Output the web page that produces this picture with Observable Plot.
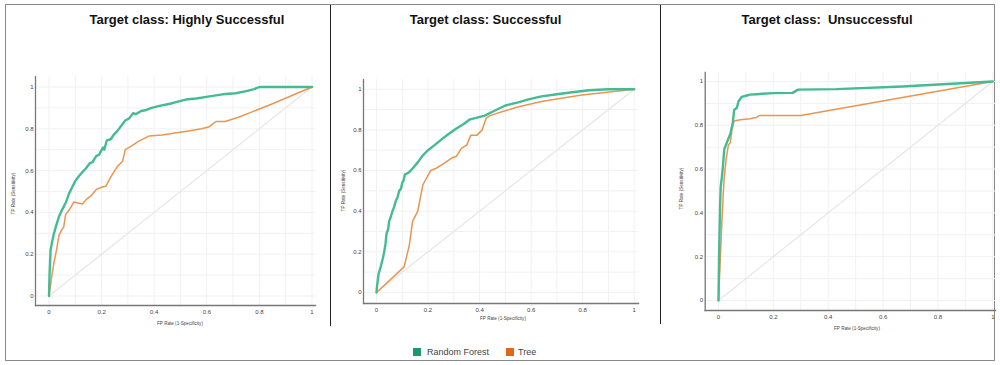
<!DOCTYPE html>
<html>
<head>
<meta charset="utf-8">
<script src="https://cdn.jsdelivr.net/npm/d3@7"></script>
<script src="https://cdn.jsdelivr.net/npm/@observablehq/plot@0.6"></script>
<style>
  html, body { margin: 0; padding: 0; background: #fff; }
  #wrap { position: relative; width: 1000px; height: 365px; overflow: hidden; font-family: "Liberation Sans", Arial, sans-serif; }
  .abs { position: absolute; }
  .title { font-weight: bold; font-size: 13px; line-height: 13px; color: #111; text-align: center; width: 300px; white-space: pre; }
  .xlab { font-size: 4.6px; line-height: 5px; color: #444; text-align: center; width: 100px; white-space: nowrap; }
  .ylab { font-size: 4.6px; line-height: 5px; color: #444; text-align: center; width: 100px; white-space: nowrap; transform: rotate(-90deg); transform-origin: 50% 50%; }
  .sw { width: 8px; height: 8px; }
  .lg { font-size: 9px; line-height: 10px; color: #444; white-space: nowrap; }
</style>
</head>
<body>
<div id="wrap"></div>
<script>
// ---------- data ----------
const seriesNames = ["Random Forest", "Tree"];
const lineColors = ["#45bb94", "#ea9550"];
const swatchColors = ["#1b9a6e", "#e2651c"];
const titles = ["Target class: Highly Successful", "Target class: Successful", "Target class:  Unsuccessful"];
const xLabel = "FP Rate (1-Specificity)";
const yLabel = "TP Rate (Sensitivity)";
const tickValues = [0, 0.2, 0.4, 0.6, 0.8, 1];
const gridValues = [0, 0.1, 0.2, 0.3, 0.4, 0.5, 0.6, 0.7, 0.8, 0.9, 1];
const diagonal = [[0, 0], [1, 1]];

// ROC points [FP rate, TP rate]
const rfHighly = [[0,0],[0.002,0.1],[0.004,0.16],[0.006,0.22],[0.012,0.26],[0.019,0.30],[0.028,0.34],[0.038,0.38],[0.045,0.40],[0.057,0.43],[0.065,0.45],[0.076,0.49],[0.088,0.52],[0.10,0.55],[0.115,0.575],[0.125,0.59],[0.14,0.61],[0.155,0.635],[0.165,0.64],[0.18,0.67],[0.19,0.675],[0.205,0.71],[0.21,0.70],[0.22,0.745],[0.235,0.75],[0.245,0.77],[0.26,0.79],[0.275,0.815],[0.29,0.84],[0.305,0.85],[0.32,0.875],[0.33,0.87],[0.35,0.885],[0.37,0.89],[0.39,0.90],[0.42,0.91],[0.46,0.92],[0.49,0.93],[0.52,0.94],[0.56,0.945],[0.61,0.955],[0.66,0.965],[0.71,0.97],[0.75,0.98],[0.78,0.99],[0.80,1.0],[1,1]];
const treeHighly = [[0,0],[0.01,0.09],[0.019,0.16],[0.03,0.23],[0.038,0.29],[0.05,0.32],[0.056,0.33],[0.063,0.39],[0.076,0.41],[0.095,0.45],[0.11,0.445],[0.127,0.44],[0.14,0.46],[0.16,0.48],[0.18,0.51],[0.2,0.52],[0.216,0.525],[0.235,0.57],[0.25,0.60],[0.26,0.62],[0.28,0.645],[0.29,0.70],[0.31,0.715],[0.34,0.74],[0.38,0.765],[0.43,0.77],[0.48,0.78],[0.53,0.79],[0.58,0.80],[0.61,0.81],[0.635,0.835],[0.67,0.835],[0.72,0.855],[0.77,0.88],[0.85,0.92],[1,1]];

const rfSucc = [[0,0],[0.002,0.03],[0.004,0.05],[0.008,0.09],[0.017,0.13],[0.025,0.17],[0.03,0.20],[0.035,0.24],[0.039,0.29],[0.045,0.31],[0.049,0.35],[0.055,0.37],[0.062,0.40],[0.068,0.42],[0.075,0.45],[0.082,0.47],[0.088,0.50],[0.095,0.51],[0.10,0.54],[0.105,0.55],[0.11,0.58],[0.125,0.59],[0.14,0.61],[0.16,0.64],[0.18,0.675],[0.20,0.70],[0.23,0.73],[0.256,0.757],[0.28,0.78],[0.31,0.807],[0.34,0.83],[0.36,0.85],[0.39,0.86],[0.42,0.87],[0.46,0.895],[0.50,0.92],[0.55,0.935],[0.59,0.95],[0.64,0.965],[0.70,0.975],[0.76,0.985],[0.825,0.995],[0.9,1],[1,1]];
const treeSucc = [[0,0],[0.107,0.126],[0.127,0.23],[0.14,0.35],[0.16,0.40],[0.18,0.53],[0.21,0.60],[0.23,0.61],[0.256,0.63],[0.29,0.66],[0.31,0.67],[0.33,0.71],[0.35,0.725],[0.366,0.774],[0.39,0.774],[0.41,0.80],[0.425,0.856],[0.44,0.87],[0.49,0.89],[0.54,0.91],[0.64,0.94],[0.79,0.97],[1,1]];

const rfUnsucc = [[0,0],[0.002,0.20],[0.004,0.32],[0.006,0.44],[0.008,0.52],[0.012,0.56],[0.016,0.61],[0.021,0.69],[0.03,0.72],[0.043,0.76],[0.052,0.81],[0.057,0.87],[0.067,0.88],[0.073,0.91],[0.085,0.93],[0.10,0.935],[0.115,0.94],[0.14,0.942],[0.16,0.944],[0.20,0.947],[0.27,0.948],[0.29,0.963],[0.43,0.965],[0.67,0.977],[1,1]];
const treeUnsucc = [[0,0],[0.012,0.35],[0.02,0.55],[0.028,0.647],[0.036,0.71],[0.043,0.72],[0.049,0.78],[0.057,0.82],[0.08,0.825],[0.115,0.83],[0.14,0.837],[0.15,0.845],[0.30,0.845],[1,1]];

// ---------- layout ----------
const panels = [
  { rf: rfHighly, tree: treeHighly, left: 0, width: 330, height: 340, xr: [48.5, 311.5], yr: [295.5, 86.5],
    m: { l: 35, r: 15, t: 76, b: 35 }, titleX: 187, xlabX: 180, xlabY: 323, ylabX: 13, ylabY: 193 },
  { rf: rfSucc, tree: treeSucc, left: 330, width: 330, height: 340, xr: [46, 303.7], yr: [292, 88.7],
    m: { l: 33, r: 22, t: 79, b: 37 }, titleX: 485.5, xlabX: 503, xlabY: 318, ylabX: 343, ylabY: 190 },
  { rf: rfUnsucc, tree: treeUnsucc, left: 660, width: 340, height: 340, xr: [58, 332.3], yr: [300, 81],
    m: { l: 44.7, r: 5, t: 72, b: 30 }, titleX: 827, xlabX: 857, xlabY: 328, ylabX: 681, ylabY: 188 }
];

const wrap = document.getElementById("wrap");
function add(cls, css, text) {
  const d = document.createElement("div");
  d.className = "abs " + cls;
  Object.assign(d.style, css);
  if (text != null) d.textContent = text;
  wrap.appendChild(d);
  return d;
}

// outer border
add("", { left: "5px", top: "4px", width: "990px", height: "357px", border: "1px solid #8a8a8a", boxSizing: "border-box" });
// separators
add("", { left: "329.5px", top: "5px", width: "1.5px", height: "321px", background: "#222" });
add("", { left: "659.5px", top: "5px", width: "1.5px", height: "319px", background: "#222" });

panels.forEach((p, i) => {
  const fmt = d => (d === 0 || d === 1) ? String(d) : d.toFixed(1);
  const plot = Plot.plot({
    width: p.width,
    height: p.height,
    marginLeft: p.m.l, marginRight: p.m.r, marginTop: p.m.t, marginBottom: p.m.b,
    x: { domain: [0, 1], range: p.xr },
    y: { domain: [0, 1], range: p.yr },
    style: { fontFamily: "Liberation Sans, Arial, sans-serif", fontSize: "6px", color: "#444", background: "transparent", overflow: "visible" },
    marks: [
      Plot.gridX(gridValues, { stroke: "#f1f1f1", strokeOpacity: 1 }),
      Plot.gridY(gridValues, { stroke: "#f1f1f1", strokeOpacity: 1 }),
      Plot.line(diagonal, { x: d => d[0], y: d => d[1], stroke: "#e6e6e6", strokeWidth: 1.2 }),
      Plot.line(p.tree, { x: d => d[0], y: d => d[1], stroke: lineColors[1], strokeWidth: 1.5 }),
      Plot.line(p.rf, { x: d => d[0], y: d => d[1], stroke: lineColors[0], strokeWidth: 2.4 }),
      Plot.axisX(tickValues, { tickSize: 0, tickPadding: 4, tickFormat: fmt, label: null }),
      Plot.axisY(tickValues, { tickSize: 0, tickPadding: 2, tickFormat: fmt, label: null }),
      Plot.frame({ anchor: "left", stroke: "#777", strokeWidth: 1.3 }),
      Plot.frame({ anchor: "bottom", stroke: "#777", strokeWidth: 1.3 })
    ]
  });
  plot.style.position = "absolute";
  plot.style.left = p.left + "px";
  plot.style.top = "0px";
  wrap.appendChild(plot);

  add("title", { left: (p.titleX - 150) + "px", top: "12.5px" }, titles[i]);
  add("xlab", { left: (p.xlabX - 50) + "px", top: (p.xlabY - 2.5) + "px" }, xLabel);
  add("ylab", { left: (p.ylabX - 50) + "px", top: (p.ylabY - 2.5) + "px" }, yLabel);
});

// legend
const legendPos = [{ sw: 413, tx: 427 }, { sw: 505.5, tx: 518 }];
seriesNames.forEach((name, i) => {
  add("sw", { left: legendPos[i].sw + "px", top: "348px", background: swatchColors[i] }, null);
  add("lg", { left: legendPos[i].tx + "px", top: "347px" }, name);
});
</script>
</body>
</html>
